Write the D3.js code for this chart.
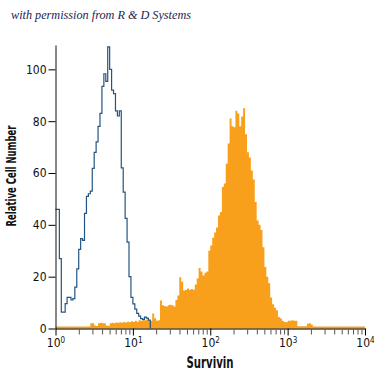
<!DOCTYPE html>
<html>
<head>
<meta charset="utf-8">
<script src="https://cdn.jsdelivr.net/npm/d3@7"></script>
<style>
  body { margin: 0; background: #fff; }
  svg { display: block; }
</style>
</head>
<body>
<div id="container"></div>
<script>
// histogram channels, width in log10 units
let binLog = 0.025;

// isotype control (blue outline), from 10^0
let controlCounts = [
  46, 46, 27, 6.3, 6.3, 9.6, 12, 12, 11, 11.5,
  16, 23, 30.5, 34.7, 34, 44.4, 51, 52, 53, 61.8,
  68, 72, 78, 83, 93.4, 98.3, 95.4, 108.7, 100, 92,
  90.6, 84, 82, 84, 62, 52.6, 42.5, 33.3, 20, 12,
  9.5, 7.5, 5.8, 4.8, 3.8, 3.5, 4.4, 4, 3.2
];

// Survivin stained cells (orange fill), from 10^0 to 10^4
let survivinCounts = [
  0.8, 0.8, 0.8, 0.8, 0.8, 0.8, 0.8, 0.8, 0.8, 0.8,
  0.8, 0.8, 0.8, 0.8, 0.8, 0.8, 0.8, 0.8, 2, 2,
  1.2, 1, 2, 2.2, 2, 2, 1.2, 1, 2, 2.2,
  2, 2.3, 2.2, 2.4, 2.2, 2.5, 2.3, 2.6, 2.4, 2.8,
  2.5, 3, 2.6, 3.2, 3, 3.5, 3.2, 3.5, 3, 3,
  5.8, 4, 3, 3.2, 10.8, 9, 8.7, 8.5, 9, 9.2,
  9, 8.5, 11, 12.7, 19.8, 18, 14.7, 15, 15.4, 15,
  15.2, 15, 17, 19.3, 23.3, 22, 20.5, 21.5, 22, 30,
  32, 35, 37, 39, 43.6, 45, 54.6, 56, 63.6, 71.4,
  81, 78, 77.7, 84, 83, 78, 81.8, 85, 75, 68,
  66, 61, 57.5, 48.8, 41.7, 40, 38, 31.4, 23.7, 20,
  17.5, 12, 9.4, 8, 7, 4.4, 4, 3, 2.5, 2.4,
  3, 3, 3.2, 3, 3, 0.9, 0.9, 0.9, 0.9, 0.9,
  1.8, 2, 1.5, 0.8, 0.8, 0.8, 0.8, 0.8, 0.8, 0.8,
  0.8, 0.8, 0.8, 0.8, 0.8, 0.8, 0.8, 0.8, 0.8, 0.8,
  0.8, 0.8, 0.8, 0.8, 0.8, 0.8, 0.8, 0.8, 0.8, 0.8
];

let xMajorTicks = [1, 10, 100, 1000, 10000];
let yTicks = [0, 20, 40, 60, 80, 100];
let xTitle = "Survivin";
let yTitle = "Relative Cell Number";
let credit = "with permission from R & D Systems";

let w = 375;
let h = 375;
let condensed = "'Liberation Sans Narrow','DejaVu Sans Condensed','Arial Narrow',sans-serif";

let viz = d3.select("#container")
  .append("svg")
    .attr("width", w)
    .attr("height", h);

let x = d3.scaleLog().domain([1, 1e4]).range([55.5, 365]);
let y = d3.scaleLinear().domain([0, 109.4]).range([328.5, 45]);

// turn counts into step points at channel edges
function toSteps(counts) {
  let pts = counts.map(function(c, i) {
    return { v: Math.pow(10, i * binLog), c: c };
  });
  pts.push({ v: Math.pow(10, counts.length * binLog), c: counts[counts.length - 1] });
  return pts;
}

let survivinArea = d3.area()
  .curve(d3.curveStepAfter)
  .x(function(d) { return x(d.v); })
  .y0(y(0))
  .y1(function(d) { return y(d.c); });

viz.append("path")
  .datum(toSteps(survivinCounts))
  .attr("d", survivinArea)
  .attr("fill", "#f8a01c");

let controlSteps = toSteps(controlCounts);
controlSteps[controlSteps.length - 1].c = 0;
let controlLine = d3.line()
  .curve(d3.curveStepAfter)
  .x(function(d) { return x(d.v); })
  .y(function(d) { return y(d.c); });

viz.append("path")
  .datum(controlSteps)
  .attr("d", controlLine)
  .attr("fill", "none")
  .attr("stroke", "#235582")
  .attr("stroke-width", 1.2);

// minor ticks on the log axis
let minorTicks = [];
for (let e = 0; e < 4; e++) {
  for (let k = 2; k <= 9; k++) minorTicks.push(k * Math.pow(10, e));
}
let xMinor = viz.append("g")
  .attr("transform", "translate(0," + (y(0) + 1) + ")")
  .call(d3.axisBottom(x).tickValues(minorTicks).tickSize(5).tickFormat(""));
xMinor.select(".domain").remove();
xMinor.selectAll("line").attr("stroke", "#555");

let xMajor = viz.append("g")
  .attr("transform", "translate(0," + y(0) + ")")
  .call(d3.axisBottom(x).tickValues(xMajorTicks).tickSize(7).tickSizeOuter(0).tickPadding(3).tickFormat(""));
xMajor.select(".domain").attr("stroke", "#5a4526").attr("stroke-width", 1.4);
xMajor.selectAll(".tick text").remove();
xMajor.selectAll(".tick").append("text")
  .attr("y", 10)
  .attr("dy", "0.71em")
  .attr("text-anchor", "middle")
  .attr("fill", "#111")
  .style("font-family", condensed)
  .style("font-size", "12px")
  .each(function(d) {
    let t = d3.select(this);
    t.append("tspan").text("10");
    t.append("tspan").attr("dy", "-0.45em").style("font-size", "8px").text(Math.round(Math.log10(d)));
  });

let yAxis = viz.append("g")
  .attr("transform", "translate(55.5,0)")
  .call(d3.axisLeft(y).tickValues(yTicks).tickSize(7).tickSizeOuter(0).tickPadding(2));
yAxis.select(".domain").attr("stroke", "#111");
yAxis.selectAll("text")
  .style("font-family", condensed)
  .style("font-size", "12px")
  .attr("fill", "#111");

viz.append("text")
  .attr("x", 210)
  .attr("y", 368)
  .attr("text-anchor", "middle")
  .attr("textLength", 47)
  .attr("lengthAdjust", "spacingAndGlyphs")
  .style("font-family", condensed)
  .style("font-size", "15px")
  .style("font-weight", "bold")
  .attr("fill", "#111")
  .text(xTitle);

viz.append("text")
  .attr("transform", "translate(16,176) rotate(-90)")
  .attr("text-anchor", "middle")
  .attr("textLength", 101)
  .attr("lengthAdjust", "spacingAndGlyphs")
  .style("font-family", condensed)
  .style("font-size", "14px")
  .style("font-weight", "bold")
  .attr("fill", "#111")
  .text(yTitle);

viz.append("text")
  .attr("x", 11)
  .attr("y", 19)
  .attr("textLength", 180)
  .attr("lengthAdjust", "spacingAndGlyphs")
  .style("font-family", "'Liberation Serif','DejaVu Serif',serif")
  .style("font-style", "italic")
  .style("font-size", "12px")
  .attr("fill", "#1b2550")
  .text(credit);
</script>
</body>
</html>
